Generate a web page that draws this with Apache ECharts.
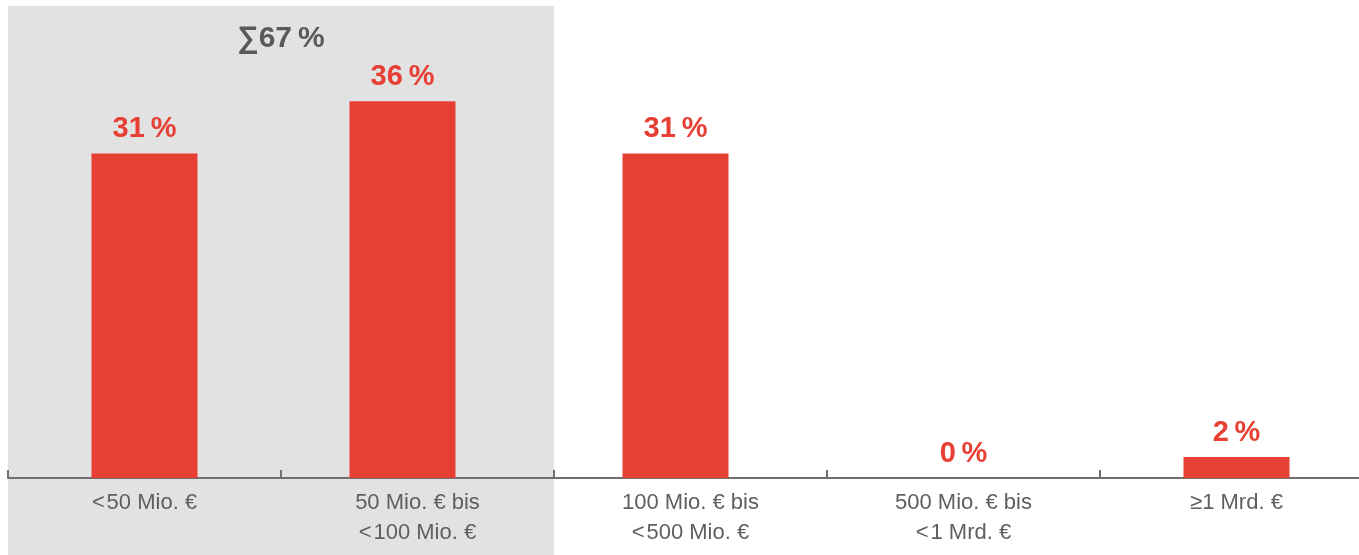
<!DOCTYPE html>
<html>
<head>
<meta charset="utf-8">
<script src="https://cdn.jsdelivr.net/npm/echarts@6/dist/echarts.min.js"></script>
<style>
html,body{margin:0;padding:0;background:#fff;overflow:hidden;width:1359px;height:555px;}
#main{width:1380px;height:555px;}
</style>
</head>
<body>
<div id="main"></div>
<script>
const categories = ['<\u200A50 Mio. €', '50 Mio. € bis\n<\u200A100 Mio. €', '100 Mio. € bis\n<\u200A500 Mio. €', '500 Mio. € bis\n<\u200A1 Mrd. €', '≥1 Mrd. €'];
const values = [31, 36, 31, 0, 2];
const highlightFrom = 0;
const highlightTo = 1;
const sumLabel = '∑67\u2009%';

// In the original, bars 2 and 3 sit slightly left of their category centre.
const leftShifted = [1, 2];

const RED = '#E83F35';
const FONT = 'Liberation Sans, Arial, sans-serif';
const dataA = values.map((v, i) => leftShifted.includes(i) ? '-' : v);
const dataB = values.map((v, i) => leftShifted.includes(i) ? v : '-');
const emptyData = values.map(() => '-');

const labelCfg = {
  show: true, position: 'top', distance: 10,
  formatter: p => p.value + '\u2009%',
  color: RED, fontWeight: 'bold', fontSize: 29, fontFamily: FONT
};

const chart = echarts.init(document.getElementById('main'));
const option = {
  animation: false,
  grid: {left: 8, top: 7, width: 1365, bottom: 77, containLabel: false},
  xAxis: [{
    type: 'category',
    data: categories,
    axisLine: {lineStyle: {color: '#6f6f6f', width: 2}},
    axisTick: {show: true, inside: true, length: 8, lineStyle: {color: '#6f6f6f', width: 2}},
    axisLabel: {color: '#5f5f5f', fontFamily: FONT, fontSize: 22, lineHeight: 30, margin: 10}
  }, {
    type: 'category', data: categories, show: false, position: 'bottom'
  }],
  yAxis: {type: 'value', min: 0, max: 45, show: false, splitLine: {show: false}},
  series: [{
    type: 'bar', xAxisIndex: 0, data: dataA, barWidth: 106,
    itemStyle: {color: RED}, label: labelCfg
  }, {
    type: 'bar', xAxisIndex: 1, data: dataB, barWidth: 106, barGap: 0,
    itemStyle: {color: RED}, label: labelCfg
  }, {
    type: 'bar', xAxisIndex: 1, data: emptyData, barWidth: 30, silent: true
  }]
};
chart.setOption(option);

function drawExtras() {
  const c0 = chart.convertToPixel({xAxisIndex: 0}, highlightFrom);
  const c1 = chart.convertToPixel({xAxisIndex: 0}, highlightTo);
  const band = chart.convertToPixel({xAxisIndex: 0}, 1) - chart.convertToPixel({xAxisIndex: 0}, 0);
  const topY = chart.convertToPixel({yAxisIndex: 0}, 45) - 1;
  const x0 = c0 - band / 2, x1 = c1 + band / 2;
  chart.setOption({
    graphic: [
      {type: 'rect', z: -10, silent: true,
       shape: {x: x0, y: topY, width: x1 - x0, height: 555 - topY},
       style: {fill: '#E2E2E2'}},
      {type: 'text', z: 10, silent: true,
       x: (x0 + x1) / 2, y: topY + 33,
       style: {text: sumLabel, fill: '#5a5a5a', font: 'bold 30px ' + FONT,
               textAlign: 'center', textVerticalAlign: 'middle'}}
    ]
  });
}
drawExtras();
</script>
</body>
</html>
